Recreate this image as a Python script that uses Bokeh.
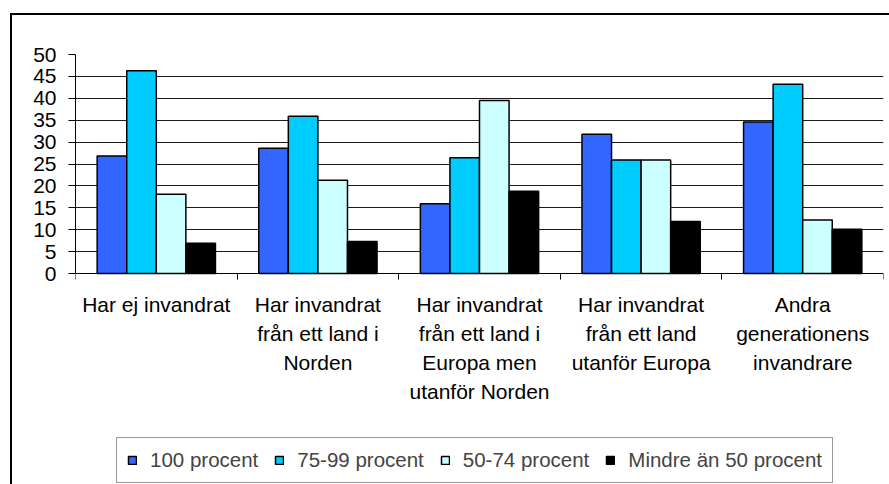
from bokeh.plotting import figure
from bokeh.models import FixedTicker, Grid, Legend, LegendItem, Range1d
from bokeh.embed import file_html
from bokeh.resources import INLINE

# ---- data ----
categories = [
    "Har ej invandrat",
    "Har invandrat\nfrån ett land i\nNorden",
    "Har invandrat\nfrån ett land i\nEuropa men\nutanför Norden",
    "Har invandrat\nfrån ett land\nutanför Europa",
    "Andra\ngenerationens\ninvandrare",
]
series_names = ["100 procent", "75-99 procent", "50-74 procent", "Mindre än 50 procent"]
v_100 = [26.8, 28.6, 15.9, 31.8, 34.6]
v_75_99 = [46.3, 35.9, 26.4, 25.9, 43.2]
v_50_74 = [18.1, 21.3, 39.5, 25.9, 12.2]
v_under_50 = [6.9, 7.3, 18.8, 11.9, 10.1]
series_values = [v_100, v_75_99, v_50_74, v_under_50]
colors = ["#3366FF", "#00CCFF", "#CCFFFF", "#000000"]
y_tick_values = [0, 5, 10, 15, 20, 25, 30, 35, 40, 45, 50]

FONT = "Liberation Sans"
n_cat = len(categories)
bar_w = 0.183

# frame spans value 50 (top) down to the bottom of the canvas; the x axis sits at 0
p = figure(
    width=877, height=469,
    x_range=Range1d(0, n_cat), y_range=Range1d(-48.17, 50),
    output_backend="svg", toolbar_location=None,
    min_border_left=63, min_border_top=39, min_border_bottom=0, min_border_right=6,
)
p.styles = {
    "margin-left": "12px",
    "margin-top": "15px",
    "outline": "2px solid black",
}
p.outline_line_color = None
p.background_fill_color = "white"
p.border_fill_color = "white"

renderers = []
for j, (vals, col) in enumerate(zip(series_values, colors)):
    xs = [i + 0.5 + (j - 1.5) * bar_w for i in range(n_cat)]
    r = p.vbar(x=xs, top=vals, bottom=0, width=bar_w,
               fill_color=col, line_color="black", line_width=1.5)
    renderers.append(r)

# y axis
p.yaxis.ticker = FixedTicker(ticks=y_tick_values)
p.yaxis.bounds = (0, 50)
p.yaxis.axis_line_color = "black"
p.yaxis.major_tick_line_color = "black"
p.yaxis.major_tick_out = 7
p.yaxis.major_tick_in = 0
p.yaxis.minor_tick_line_color = None
p.yaxis.major_label_text_font = FONT
p.yaxis.major_label_text_font_size = "21px"
p.yaxis.major_label_text_color = "black"
p.yaxis.major_label_standoff = 12

# x axis, fixed at y = 0
centers = [i + 0.5 for i in range(n_cat)]
bounds = [float(i) for i in range(n_cat + 1)]
p.xaxis.fixed_location = 0
p.xaxis.ticker = FixedTicker(ticks=centers, minor_ticks=bounds)
p.xaxis.major_label_overrides = {c: lab for c, lab in zip(centers, categories)}
p.xaxis.axis_line_color = "black"
p.xaxis.major_tick_out = 0
p.xaxis.major_tick_in = 0
p.xaxis.minor_tick_line_color = "black"
p.xaxis.minor_tick_out = 6
p.xaxis.minor_tick_in = 0
p.xaxis.major_label_text_font = FONT
p.xaxis.major_label_text_font_size = "21px"
p.xaxis.major_label_text_color = "black"
p.xaxis.major_label_text_line_height = 1.27
p.xaxis.major_label_standoff = 13

# grid
p.xgrid.visible = False
p.ygrid.ticker = FixedTicker(ticks=y_tick_values[1:-1])
p.ygrid.grid_line_color = "#1a1a1a"
p.ygrid.grid_line_width = 1
p.add_layout(Grid(dimension=1, ticker=FixedTicker(ticks=[y_tick_values[-1]]),
                  grid_line_color="#dddddd", grid_line_width=1))

legend = Legend(
    items=[LegendItem(label=n, renderers=[r]) for n, r in zip(series_names, renderers)],
    orientation="horizontal", location=(41, 1),
    label_text_font=FONT, label_text_font_size="20.5px",
    glyph_width=10, glyph_height=10, label_standoff=13, spacing=16,
    padding=10, margin=0,
    border_line_color="#333333", border_line_width=1,
    background_fill_color="white", background_fill_alpha=1,
)
p.add_layout(legend, "center")

open("out.html", "w").write(file_html(p, INLINE))
